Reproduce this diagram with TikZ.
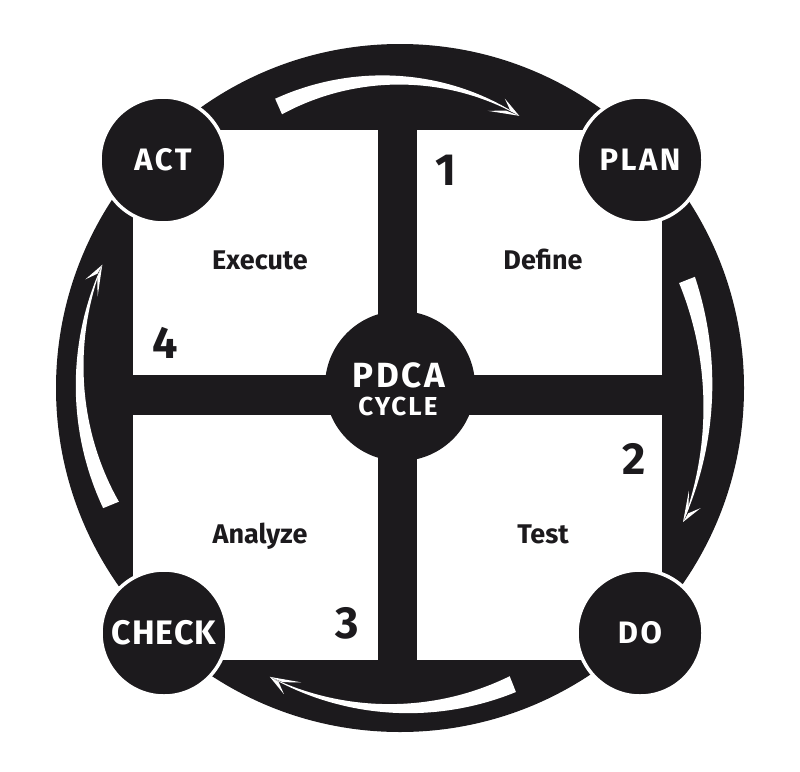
\documentclass[tikz,border=0pt]{standalone}
\usepackage{fontspec}
\newfontfamily\pdcafont{Fira Sans}
\newfontfamily\pdcawide[LetterSpace=8]{Fira Sans}
\newfontfamily\pdcamid[LetterSpace=3]{Fira Sans}
\definecolor{ink}{RGB}{28,26,29}
\newcommand{\cyclearrow}[8]{%
 \fill[white] plot[domain=0:1,samples=60,variable=\s]
   ({#1+(#5+(#6-(#5))*\s+4*(#7)*\s*(1-\s)+8.5*(1-\s))*cos(#3+(#4-(#3))*\s)},
    {#2+(#5+(#6-(#5))*\s+4*(#7)*\s*(1-\s)+8.5*(1-\s))*sin(#3+(#4-(#3))*\s)})
   -- plot[domain=1:0,samples=60,variable=\s]
   ({#1+(#5+(#6-(#5))*\s+4*(#7)*\s*(1-\s)-8.5*(1-\s))*cos(#3+(#4-(#3))*\s)},
    {#2+(#5+(#6-(#5))*\s+4*(#7)*\s*(1-\s)-8.5*(1-\s))*sin(#3+(#4-(#3))*\s)}) -- cycle;
 \coordinate (#8tip) at ({#1+(#6)*cos(#4)},{#2+(#6)*sin(#4)});
 \coordinate (#8ob) at ({#1+(#6+10)*cos(#4)+20*sin(#4)},{#2+(#6+10)*sin(#4)-20*cos(#4)});
 \coordinate (#8on) at ({#1+(#6+1)*cos(#4)+10*sin(#4)},{#2+(#6+1)*sin(#4)-10*cos(#4)});
 \coordinate (#8ib) at ({#1+(#6-8)*cos(#4)+31*sin(#4)},{#2+(#6-8)*sin(#4)-31*cos(#4)});
 \coordinate (#8in) at ({#1+(#6-0.5)*cos(#4)+14*sin(#4)},{#2+(#6-0.5)*sin(#4)-14*cos(#4)});
 \fill[white] (#8tip) -- (#8ob) -- (#8on) -- cycle;
 \fill[white] (#8tip) -- (#8ib) -- (#8in) -- cycle;
}
\tikzset{
 corner/.style={circle, fill=ink, draw=white, line width=3.5pt, minimum size=126pt,
   inner sep=0pt, text=white, font=\pdcawide\bfseries\fontsize{31}{31}\selectfont},
 hub/.style={circle, fill=ink, minimum size=150pt, inner sep=0pt},
 hubtext/.style={text=white, inner sep=0pt, anchor=base},
 quad/.style={text=ink, inner sep=0pt, anchor=base, font=\pdcafont\bfseries\fontsize{27}{27}\selectfont},
 num/.style={text=ink, inner sep=0pt, anchor=base, font=\pdcafont\bfseries\fontsize{45}{45}\selectfont},
}
\begin{document}
\begin{tikzpicture}[x=1pt,y=-1pt]
\fill[white] (0,0) rectangle (800,771);
\useasboundingbox (0,0) rectangle (800,771);
% outer disk and quadrants
\fill[ink] (400,388) circle[radius=344pt];
\fill[white] (133,130) rectangle (662,660);
\fill[ink] (378,130) rectangle (417,660);
\fill[ink] (133,375) rectangle (662,415);
% cycle arrows in the ring
\cyclearrow{400}{390}{-113.2}{-66.5}{308.4}{299}{6}{at}
\cyclearrow{400}{390}{-21}{25}{307.4}{312.3}{-2}{ar}
\cyclearrow{400}{390}{69}{114.4}{315}{315}{3.5}{ab}
\cyclearrow{400}{390}{158.3}{202.8}{311}{323}{3}{al}
% hub
\node[hub] (pdca) at (400,386) {};
\node[hubtext, font=\pdcawide\bfseries\fontsize{35}{35}\selectfont] (pdcat) at (399,387) {PDCA};
\node[hubtext, font=\pdcawide\bfseries\fontsize{26}{26}\selectfont] (cyclet) at (398,415) {CYCLE};
% corner phases
\node[corner] (act) at (163,160) {ACT};
\node[corner] (plan) at (640,160) {PLAN};
\node[corner, font=\pdcamid\bfseries\fontsize{34}{34}\selectfont] (check) at (164,633) {CHECK};
\node[corner] (do) at (640,633) {DO};
% quadrant labels
\node[quad] (execute) at (260,269) {Execute};
\node[quad] (define) at (543,269) {Define};
\node[quad] (analyze) at (260,543) {Analyze};
\node[quad] (test) at (543,543) {Test};
% step numbers
\node[num] (n1) at (446,185) {1};
\node[num] (n2) at (634,474) {2};
\node[num] (n3) at (347,638) {3};
\node[num] (n4) at (165,358) {4};
\end{tikzpicture}
\end{document}
